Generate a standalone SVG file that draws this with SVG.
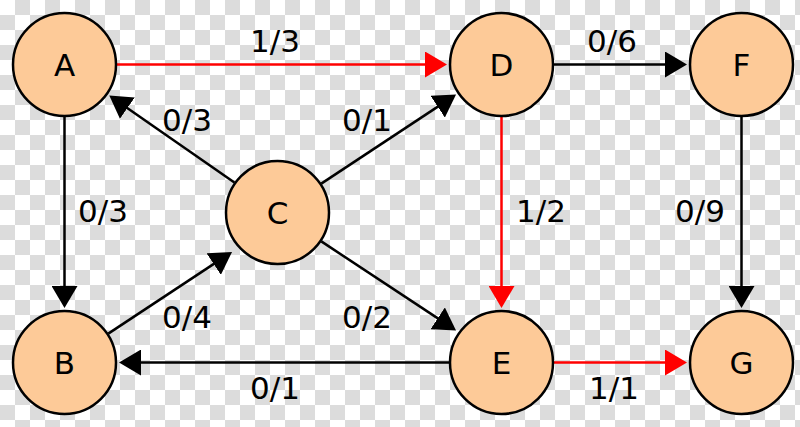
<svg xmlns="http://www.w3.org/2000/svg" width="800" height="427" viewBox="0 0 800 427">
<defs>
<pattern id="checker" patternUnits="userSpaceOnUse" width="30" height="30">
<rect width="30" height="30" fill="#ffffff"/>
<rect x="15" y="0" width="15" height="15" fill="#dcdcdc"/>
<rect x="0" y="15" width="15" height="15" fill="#dcdcdc"/>
</pattern>
<marker id="ah" markerUnits="userSpaceOnUse" viewBox="0 0 22 26" refX="12" refY="13" markerWidth="22" markerHeight="26" orient="auto">
<path d="M0,0 L22,13 L0,26 z" fill="#000"/>
</marker>
<marker id="ahr" markerUnits="userSpaceOnUse" viewBox="0 0 22 26" refX="12" refY="13" markerWidth="22" markerHeight="26" orient="auto">
<path d="M0,0 L22,13 L0,26 z" fill="#ff0000"/>
</marker>
</defs>
<style>
.node circle{fill:#fdca98;stroke:#000;stroke-width:2.5}
.node text{font-family:"DejaVu Sans",sans-serif;font-size:31px;text-anchor:middle;fill:#000}
.edge{fill:none;stroke-width:2.5}
.blk{stroke:#000;marker-end:url(#ah)}
.red{stroke:#ff0000;marker-end:url(#ahr)}
.lbl{font-family:"DejaVu Sans",sans-serif;font-size:31px;text-anchor:middle;fill:#000}
</style>
<rect width="800" height="427" fill="url(#checker)"/>
<g id="connectors">
<path class="edge red" d="M117,64.5 L437,64.5"/>
<path class="edge blk" d="M554,64.5 L677,64.5"/>
<path class="edge blk" d="M64.5,117 L64.5,298"/>
<path class="edge blk" d="M234.4,182.5 L117.5,101.3"/>
<path class="edge blk" d="M321.3,183.6 L447.7,100.1"/>
<path class="edge blk" d="M108.3,333.6 L223.7,257.4"/>
<path class="edge blk" d="M321.3,241.4 L447.7,324.9"/>
<path class="edge red" d="M501.5,117 L501.5,298"/>
<path class="edge blk" d="M741.5,117 L741.5,298"/>
<path class="edge blk" d="M449,362.5 L129,362.5"/>
<path class="edge red" d="M554,362.5 L677,362.5"/>
</g>
<g id="labels">
<text class="lbl" x="275" y="52">1/3</text>
<text class="lbl" x="612" y="52">0/6</text>
<text class="lbl" x="187" y="131">0/3</text>
<text class="lbl" x="367" y="131">0/1</text>
<text class="lbl" x="103" y="222">0/3</text>
<text class="lbl" x="541" y="222">1/2</text>
<text class="lbl" x="700" y="222">0/9</text>
<text class="lbl" x="187" y="328">0/4</text>
<text class="lbl" x="367" y="328">0/2</text>
<text class="lbl" x="275" y="399">0/1</text>
<text class="lbl" x="614" y="399">1/1</text>
</g>
<g id="node-A" class="node"><circle cx="64.5" cy="64.5" r="51.5"/><text x="64.5" y="76">A</text></g>
<g id="node-D" class="node"><circle cx="501.5" cy="64.5" r="51.5"/><text x="501.5" y="76">D</text></g>
<g id="node-F" class="node"><circle cx="741.5" cy="64.5" r="51.5"/><text x="741.5" y="76">F</text></g>
<g id="node-C" class="node"><circle cx="277.5" cy="212.5" r="51.5"/><text x="277.5" y="224">C</text></g>
<g id="node-B" class="node"><circle cx="64.5" cy="362.5" r="51.5"/><text x="64.5" y="374">B</text></g>
<g id="node-E" class="node"><circle cx="501.5" cy="362.5" r="51.5"/><text x="501.5" y="374">E</text></g>
<g id="node-G" class="node"><circle cx="741.5" cy="362.5" r="51.5"/><text x="741.5" y="374">G</text></g>
</svg>
